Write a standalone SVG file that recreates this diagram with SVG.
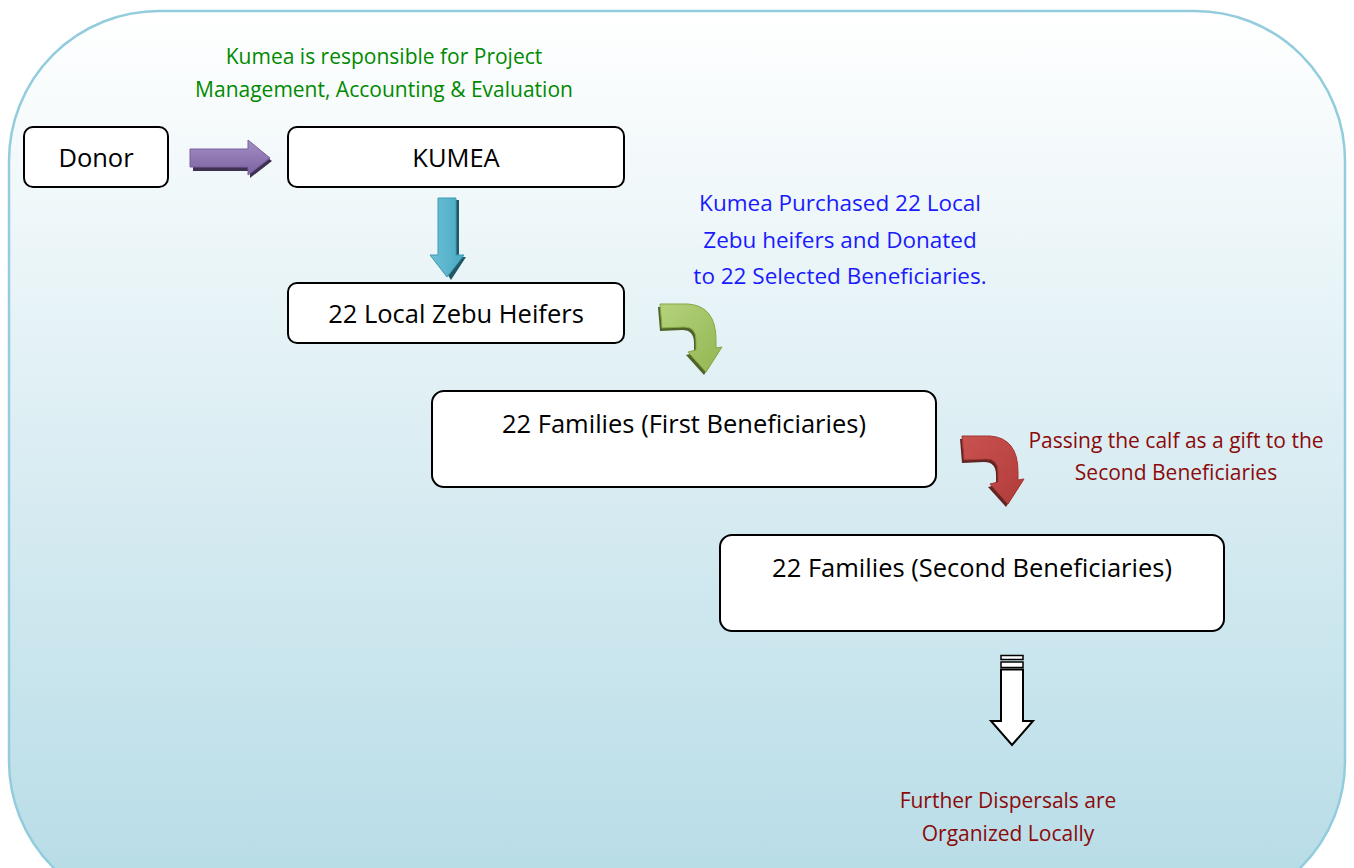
<svg xmlns="http://www.w3.org/2000/svg" width="1354" height="868" viewBox="0 0 1354 868">
<defs>
<linearGradient id="bg" x1="0" y1="0" x2="0" y2="1">
<stop offset="0" stop-color="#ffffff"/>
<stop offset="1" stop-color="#b5dbe6"/>
</linearGradient>
<linearGradient id="gPurple" x1="0" y1="0" x2="0" y2="1">
<stop offset="0" stop-color="#a38fc3"/>
<stop offset="1" stop-color="#7c62a2"/>
</linearGradient>
<linearGradient id="gBlue" x1="0" y1="0" x2="1" y2="0">
<stop offset="0" stop-color="#6cc1d6"/>
<stop offset="1" stop-color="#49a9c3"/>
</linearGradient>
<linearGradient id="gGreen" x1="0" y1="0" x2="1" y2="1">
<stop offset="0" stop-color="#b4d27c"/>
<stop offset="1" stop-color="#93b651"/>
</linearGradient>
<linearGradient id="gRed" x1="0" y1="0" x2="1" y2="1">
<stop offset="0" stop-color="#c9524f"/>
<stop offset="1" stop-color="#b03c3a"/>
</linearGradient>
<path id="curve" d="M 0,1 L 28,1 Q 56,3 56,37 L 56,45 L 62,44 L 46,69 L 28,49 L 36,47 L 36,37 Q 36,24 24,24 L 2,25 Z"/>
<style>
.node rect{fill:#ffffff;stroke:#000000;stroke-width:2}
.nt{font-family:"Open Sans","Liberation Sans",sans-serif;font-size:25.5px;fill:#000;text-anchor:middle}
.lbl{font-family:"Open Sans","Liberation Sans",sans-serif;font-size:21px;text-anchor:middle}
</style>
</defs>
<rect x="9" y="11" width="1336" height="900" rx="150" ry="150" fill="url(#bg)" stroke="#93cddd" stroke-width="2.5"/>

<g id="connectors">
<g id="arrow-donor-kumea">
<path d="M 193,152 L 250,152 L 250,144 L 272,161 L 250,178 L 250,171 L 193,171 Z" fill="#3f3151"/>
<path d="M 190,149 L 248,149 L 248,140 L 270,158 L 248,175 L 248,167 L 190,167 Z" fill="url(#gPurple)" stroke="#7a609e" stroke-width="1"/>
</g>
<g id="arrow-kumea-heifers">
<path d="M 441,200 L 459,200 L 459,257 L 466,257 L 451,280 L 436,257 L 441,257 Z" fill="#215868"/>
<path d="M 438,198 L 456,198 L 456,255 L 464,255 L 447,277 L 430,255 L 438,255 Z" fill="url(#gBlue)" stroke="#3f9ab3" stroke-width="1"/>
</g>
<g id="arrow-heifers-first">
<use href="#curve" transform="translate(658,306)" fill="#4f6228"/>
<use href="#curve" transform="translate(660,303)" fill="url(#gGreen)" stroke="#86a747" stroke-width="1"/>
</g>
<g id="arrow-first-second">
<use href="#curve" transform="translate(960,438)" fill="#632523"/>
<use href="#curve" transform="translate(962,435)" fill="url(#gRed)" stroke="#a33634" stroke-width="1"/>
</g>
<g id="arrow-second-further" fill="#ffffff" stroke="#000" stroke-width="1.5">
<rect x="1001" y="655.5" width="22" height="4"/>
<rect x="1001" y="662" width="22" height="5.5"/>
<path d="M 1001,669.5 L 1023,669.5 L 1023,721 L 1033,721 L 1012,745 L 991,721 L 1001,721 Z" stroke-width="2"/>
</g>
</g>

<g id="node-donor" class="node">
<rect x="24" y="127" width="144" height="60" rx="9"/>
<text class="nt" x="96" y="167">Donor</text>
</g>
<g id="node-kumea" class="node">
<rect x="288" y="127" width="336" height="60" rx="9"/>
<text class="nt" x="456" y="167">KUMEA</text>
</g>
<g id="node-heifers" class="node">
<rect x="288" y="283" width="336" height="60" rx="9"/>
<text class="nt" x="456" y="323">22 Local Zebu Heifers</text>
</g>
<g id="node-first" class="node">
<rect x="432" y="391" width="504" height="96" rx="12"/>
<text class="nt" x="684" y="433">22 Families (First Beneficiaries)</text>
</g>
<g id="node-second" class="node">
<rect x="720" y="535" width="504" height="96" rx="12"/>
<text class="nt" x="972" y="577">22 Families (Second Beneficiaries)</text>
</g>

<g id="label-kumea" class="lbl" fill="#008a00">
<text x="384" y="64">Kumea is responsible for Project</text>
<text x="384" y="97">Management, Accounting &amp; Evaluation</text>
</g>
<g id="label-purchase" class="lbl" fill="#1a1aff" style="font-size:22.5px">
<text x="840" y="211">Kumea Purchased 22 Local</text>
<text x="840" y="248">Zebu heifers and Donated</text>
<text x="840" y="284">to 22 Selected Beneficiaries.</text>
</g>
<g id="label-passing" class="lbl" fill="#8b0a0a">
<text x="1176" y="448">Passing the calf as a gift to the</text>
<text x="1176" y="480">Second Beneficiaries</text>
</g>
<g id="label-further" class="lbl" fill="#8b0a0a">
<text x="1008" y="808">Further Dispersals are</text>
<text x="1008" y="841">Organized Locally</text>
</g>
</svg>
